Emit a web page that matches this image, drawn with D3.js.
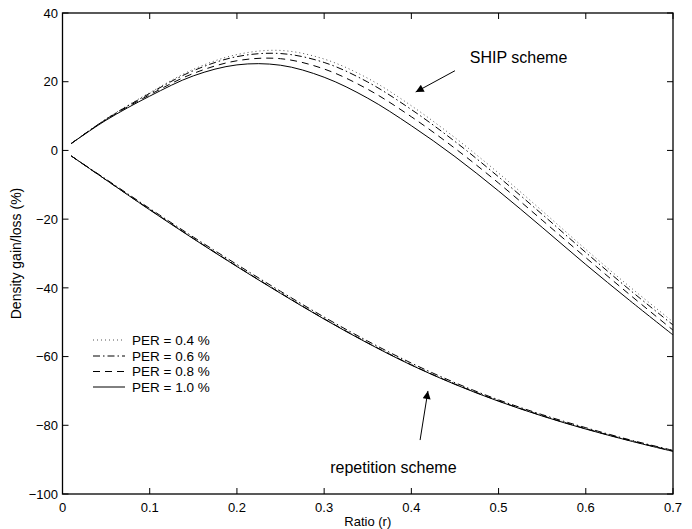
<!DOCTYPE html>
<html>
<head>
<meta charset="utf-8">
<script src="https://cdn.jsdelivr.net/npm/d3@7"></script>
<style>
  html, body { margin: 0; padding: 0; background: #fff; }
  svg { display: block; font-family: "Liberation Sans", Arial, Helvetica, sans-serif; }
</style>
</head>
<body>
<svg id="chart" width="692" height="529"></svg>
<script>
// Ratio values where each curve is sampled
const ratios = [0.01, 0.05, 0.10, 0.15, 0.20, 0.25, 0.30, 0.35, 0.40, 0.45, 0.50, 0.55, 0.60, 0.65, 0.70];

// Density gain (%) of the SHIP scheme, one list per packet error rate
const ship04 = [2.0, 9.2, 16.8, 23.6, 27.9, 29.1, 26.6, 21.0, 13.0, 3.7, -6.6, -17.6, -28.8, -39.6, -49.9];
const ship06 = [2.0, 9.1, 16.6, 23.2, 27.3, 28.2, 25.6, 19.9, 11.9, 2.6, -7.7, -18.6, -29.7, -40.5, -50.8];
const ship08 = [2.0, 9.0, 16.2, 22.4, 26.1, 26.7, 23.7, 17.8, 9.8, 0.6, -9.5, -20.3, -31.2, -41.9, -52.3];
const ship10 = [2.0, 8.8, 15.8, 21.7, 24.9, 24.8, 21.3, 15.2, 7.2, -1.8, -11.8, -22.4, -33.2, -43.6, -53.7];

// Density loss (%) of the repetition scheme
const rep04 = [-1.6, -8.5, -17.1, -25.5, -33.6, -41.4, -48.9, -55.9, -62.3, -67.9, -72.8, -77.1, -80.9, -84.3, -87.4];
const rep06 = [-1.6, -8.4, -16.9, -25.2, -33.2, -41.0, -48.5, -55.5, -61.9, -67.6, -72.6, -76.9, -80.7, -84.2, -87.3];
const rep08 = [-1.6, -8.6, -17.2, -25.6, -33.7, -41.5, -49.0, -56.0, -62.4, -68.0, -72.9, -77.2, -81.0, -84.4, -87.5];
const rep10 = [-1.6, -8.6, -17.3, -25.7, -33.8, -41.6, -49.1, -56.1, -62.5, -68.1, -73.0, -77.3, -81.1, -84.5, -87.6];

// Legend entries and their line styles
const legendLabels = ["PER = 0.4 %", "PER = 0.6 %", "PER = 0.8 %", "PER = 1.0 %"];
const dashStyles = ["1,3", "7,3,1.5,3", "7,5", null];

// Axis ticks
const xTicks = [0, 0.1, 0.2, 0.3, 0.4, 0.5, 0.6, 0.7];
const xTickLabels = ["0", "0.1", "0.2", "0.3", "0.4", "0.5", "0.6", "0.7"];
const yTicks = [-100, -80, -60, -40, -20, 0, 20, 40];
const yTickLabels = ["\u2212100", "\u221280", "\u221260", "\u221240", "\u221220", "0", "20", "40"];

// Text annotations with arrows, in data units
const notes = [
  { text: "SHIP scheme", tx: 0.467, ty: 25.4, from: [0.450, 23.2], to: [0.405, 17.0] },
  { text: "repetition scheme", tx: 0.307, ty: -93.9, from: [0.410, -84.3], to: [0.419, -70.0] }
];

const svg = d3.select("#chart");
const plotLeft = 62.5, plotRight = 673, plotTop = 13, plotBottom = 494;

const x = d3.scaleLinear().domain([0, 0.7]).range([plotLeft, plotRight]);
const y = d3.scaleLinear().domain([-100, 40]).range([plotBottom, plotTop]);

const line = d3.line()
  .x(d => x(d[0]))
  .y(d => y(d[1]))
  .curve(d3.curveCatmullRom.alpha(0.5));

const shipSeries = [ship04, ship06, ship08, ship10];
const repSeries = [rep04, rep06, rep08, rep10];

const curves = svg.append("g").attr("fill", "none");
[shipSeries, repSeries].forEach(group => {
  group.forEach((vals, i) => {
    curves.append("path")
      .attr("d", line(ratios.map((r, k) => [r, vals[k]])))
      .attr("stroke", i === 0 ? "#555" : "#000")
      .attr("stroke-width", 1)
      .attr("stroke-dasharray", dashStyles[i]);
  });
});

// Frame
svg.append("rect")
  .attr("x", plotLeft).attr("y", plotTop)
  .attr("width", plotRight - plotLeft).attr("height", plotBottom - plotTop)
  .attr("fill", "none").attr("stroke", "#000").attr("stroke-width", 1.3);

// Inward ticks on all four sides
const tickLen = 6;
const ticks = svg.append("g").attr("stroke", "#000").attr("stroke-width", 1);
xTicks.forEach(t => {
  ticks.append("line").attr("x1", x(t)).attr("x2", x(t)).attr("y1", plotBottom).attr("y2", plotBottom - tickLen);
  ticks.append("line").attr("x1", x(t)).attr("x2", x(t)).attr("y1", plotTop).attr("y2", plotTop + tickLen);
});
yTicks.forEach(t => {
  ticks.append("line").attr("x1", plotLeft).attr("x2", plotLeft + tickLen).attr("y1", y(t)).attr("y2", y(t));
  ticks.append("line").attr("x1", plotRight).attr("x2", plotRight - tickLen).attr("y1", y(t)).attr("y2", y(t));
});

// Tick labels
svg.append("g").selectAll("text").data(xTicks).join("text")
  .attr("x", d => x(d)).attr("y", 511.5)
  .attr("text-anchor", "middle")
  .attr("font-size", 13)
  .text((d, i) => xTickLabels[i]);

svg.append("g").selectAll("text").data(yTicks).join("text")
  .attr("x", 58).attr("y", d => y(d))
  .attr("dy", "0.36em")
  .attr("text-anchor", "end")
  .attr("font-size", 13)
  .text((d, i) => yTickLabels[i]);

// Axis titles
svg.append("text")
  .attr("x", (plotLeft + plotRight) / 2).attr("y", 526)
  .attr("text-anchor", "middle").attr("font-size", 13)
  .text("Ratio (r)");

svg.append("text")
  .attr("transform", `translate(21,${(plotTop + plotBottom) / 2}) rotate(-90)`)
  .attr("text-anchor", "middle").attr("font-size", 14)
  .text("Density gain/loss (%)");

// Legend
const legend = svg.append("g");
const legendY = [340, 356, 371.5, 387];
legendLabels.forEach((lab, i) => {
  legend.append("line")
    .attr("x1", 93).attr("x2", 125)
    .attr("y1", legendY[i]).attr("y2", legendY[i])
    .attr("stroke", i === 0 ? "#555" : "#000")
    .attr("stroke-width", 1)
    .attr("stroke-dasharray", dashStyles[i]);
  legend.append("text")
    .attr("x", 132).attr("y", legendY[i]).attr("dy", "0.36em")
    .attr("font-size", 13.5)
    .text(lab);
});

// Annotations with arrows
svg.append("defs").append("marker")
  .attr("id", "arrowhead")
  .attr("viewBox", "0 0 10 10")
  .attr("refX", 10).attr("refY", 5)
  .attr("markerWidth", 10).attr("markerHeight", 8)
  .attr("markerUnits", "userSpaceOnUse")
  .attr("orient", "auto")
  .append("path").attr("d", "M0,0 L10,5 L0,10 z").attr("fill", "#000");

notes.forEach(n => {
  svg.append("text")
    .attr("x", x(n.tx)).attr("y", y(n.ty))
    .attr("font-size", 16)
    .text(n.text);
  svg.append("line")
    .attr("x1", x(n.from[0])).attr("y1", y(n.from[1]))
    .attr("x2", x(n.to[0])).attr("y2", y(n.to[1]))
    .attr("stroke", "#000").attr("stroke-width", 1)
    .attr("marker-end", "url(#arrowhead)");
});
</script>
</body>
</html>
